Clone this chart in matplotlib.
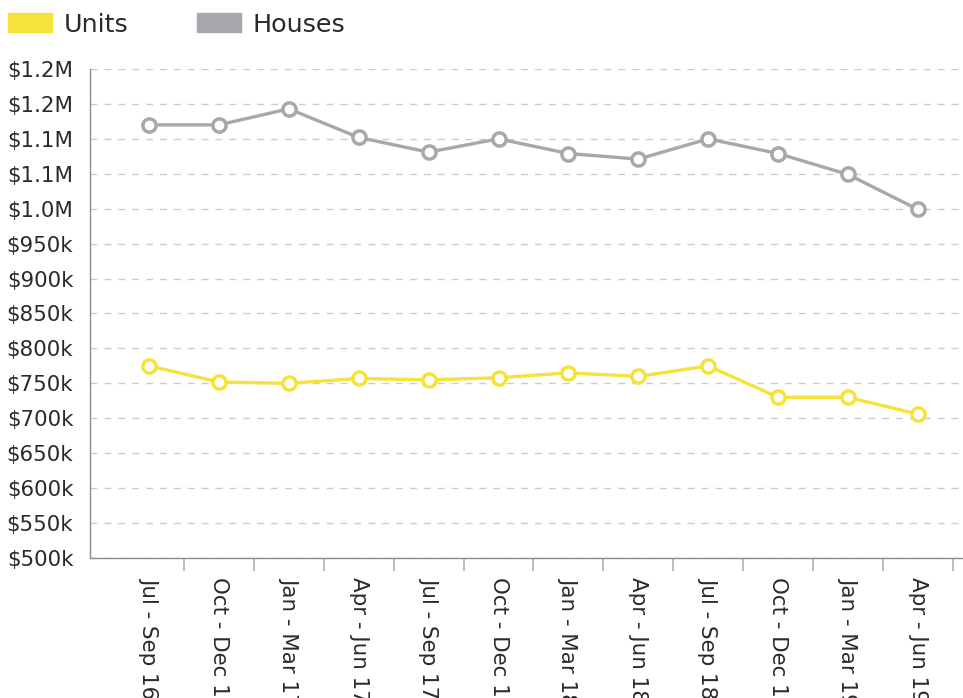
import math
import numpy as np
from matplotlib import pyplot as plt
from matplotlib.patches import Patch
from matplotlib.ticker import FuncFormatter, FixedLocator

# quarter labels along the x axis
quarters = ["Jul - Sep 16", "Oct - Dec 16", "Jan - Mar 17", "Apr - Jun 17",
            "Jul - Sep 17", "Oct - Dec 17", "Jan - Mar 18", "Apr - Jun 18",
            "Jul - Sep 18", "Oct - Dec 18", "Jan - Mar 19", "Apr - Jun 19"]

# median prices
units = [775000, 752000, 750000, 757000, 755000, 758000,
         765000, 760000, 775000, 730000, 730000, 706000]
houses = [1120000, 1120000, 1143000, 1102000, 1081000, 1100000,
          1079000, 1071000, 1100000, 1079000, 1049000, 999000]

yellow = "#f5e23a"
grey = "#a7a8ab"
axis_grey = "#8c8c8c"
text_col = "#2a2a2a"


def money(v, pos):
    # JS-style rounding: 1.05M -> $1.1M, 1.15M -> $1.2M
    if v >= 1e6:
        return "$%.1fM" % (math.floor(v / 1e5 + 0.5) / 10)
    return "$%dk" % round(v / 1e3)


fig = plt.figure(figsize=(9.63, 6.98), dpi=100)
ax = fig.add_axes([90 / 963, 1 - 558 / 698, 872 / 963, (558 - 69) / 698])

x = np.arange(len(quarters))
ax.plot(x, units, color=yellow, lw=2.4, marker="o", ms=9.5, mfc="white",
        mec=yellow, mew=2.5, zorder=3)
ax.plot(x, houses, color=grey, lw=2.4, marker="o", ms=9.5, mfc="white",
        mec=grey, mew=2.5, zorder=3)

ax.set_xlim(-0.844, 11.63)
ax.set_ylim(500000, 1200000)

ax.yaxis.set_major_locator(FixedLocator(np.arange(500000, 1200001, 50000)))
ax.yaxis.set_major_formatter(FuncFormatter(money))
ax.tick_params(axis="y", length=0, pad=12, labelsize=15.4, labelcolor=text_col)

ax.set_xticks(x)
ax.set_xticklabels(quarters, rotation=-90)
ax.set_xticks(x + 0.5, minor=True)
ax.tick_params(axis="x", which="major", length=0, pad=14, labelsize=15.4,
               labelcolor=text_col)
ax.tick_params(axis="x", which="minor", length=9, width=1.2, color="#b0b0b0")

ax.grid(axis="y", color="#cccccc", lw=1, ls=(0, (5, 5)))
ax.set_axisbelow(True)

for side in ["top", "right"]:
    ax.spines[side].set_visible(False)
for side in ["left", "bottom"]:
    ax.spines[side].set_color(axis_grey)
    ax.spines[side].set_linewidth(1)

handles = [Patch(color=yellow, label="Units"), Patch(color=grey, label="Houses")]
leg = fig.legend(handles=handles, loc="upper left",
                 bbox_to_anchor=(0.0, 1 - 5 / 698),
                 ncol=2, frameon=False, fontsize=18.3, handlelength=1.75,
                 handleheight=0.78, handletextpad=0.45, columnspacing=2.7,
                 borderaxespad=0.2, borderpad=0.1)
for t in leg.get_texts():
    t.set_color(text_col)

fig.savefig("out.png", dpi=100)
